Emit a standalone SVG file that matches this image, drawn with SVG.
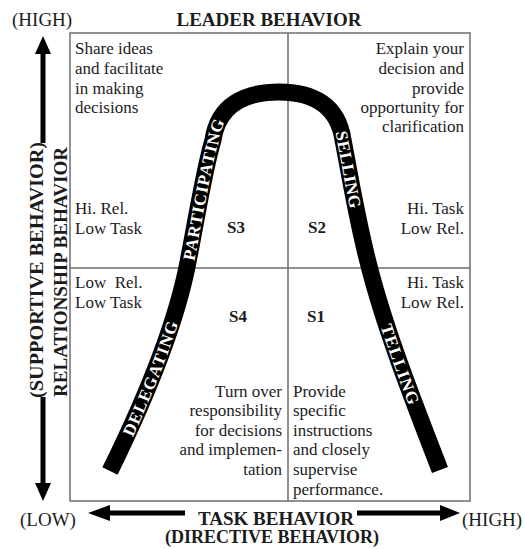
<svg xmlns="http://www.w3.org/2000/svg" width="525" height="549" viewBox="0 0 525 549">
<style>
.t{font-family:"Liberation Serif","Times New Roman",serif;font-size:17px;fill:#1c1c1c}
.b{font-family:"Liberation Serif","Times New Roman",serif;font-weight:bold;fill:#1c1c1c}
.r{text-anchor:end}
.w{font-family:"Liberation Serif","Times New Roman",serif;font-weight:bold;font-size:17px;fill:#fff}
.grid{fill:none;stroke:#6e6e6e;stroke-width:1.5}
.band{fill:none;stroke:#000;stroke-width:17;stroke-linecap:butt;stroke-linejoin:round}
.ax{stroke:#000;stroke-width:5;fill:none}
</style>
<defs>
<path id="pL1" d="M110,471 C140,410 175,330 188,262"/>
<path id="pL2" d="M188,262 C196,222 204,170 213,140 C218,105 245,92 279,92"/>
<path id="pR1" d="M333.35,114.2 C338.2,120.98 341.5,129.5 343,140 C349,170 356,215 368,262"/>
<path id="pR2" d="M368,262 C385,330 415,405 440,470"/>
</defs>
<rect width="525" height="549" fill="#fff"/>
<g id="grid">
<rect class="grid" x="70" y="33" width="400" height="468"/>
<line class="grid" x1="288" y1="33" x2="288" y2="501"/>
<line class="grid" x1="70" y1="268" x2="470" y2="268"/>
</g>
<g id="axes">
<line class="ax" x1="43" y1="52" x2="43" y2="143"/>
<polygon points="43,36 35,54 51,54" fill="#000"/>
<line class="ax" x1="43" y1="397" x2="43" y2="485"/>
<polygon points="43,501 35,483 51,483" fill="#000"/>
<line class="ax" x1="108" y1="513" x2="185" y2="513"/>
<polygon points="88,513 110,505 110,521" fill="#000"/>
<line class="ax" x1="357" y1="513" x2="442" y2="513"/>
<polygon points="460,513 440,505 440,521" fill="#000"/>
</g>
<g id="curve">
<path class="band" d="M110,471 C140,410 175,330 188,262 C196,222 204,170 213,140 C218,105 245,92 279,92 C313,92 338,105 343,140 C349,170 356,215 368,262 C385,330 415,405 440,470"/>
<text class="w" dy="6"><textPath href="#pL1" startOffset="40" textLength="122" lengthAdjust="spacing">DELEGATING</textPath></text>
<text class="w" dy="6"><textPath href="#pL2" startOffset="2" textLength="144" lengthAdjust="spacing">PARTICIPATING</textPath></text>
<text class="w" dy="6"><textPath href="#pR1" startOffset="19" textLength="78" lengthAdjust="spacing">SELLING</textPath></text>
<text class="w" dy="6"><textPath href="#pR2" startOffset="65" textLength="84" lengthAdjust="spacing">TELLING</textPath></text>
</g>
<g id="titles">
<text class="t" x="12" y="26" style="font-size:19px">(HIGH)</text>
<text class="b" x="269" y="26" text-anchor="middle" style="font-size:19px">LEADER BEHAVIOR</text>
<text class="t" x="20" y="526" style="font-size:19px">(LOW)</text>
<text class="t" x="462" y="526" style="font-size:19px">(HIGH)</text>
<text class="b" x="276" y="525" text-anchor="middle" style="font-size:19px">TASK BEHAVIOR</text>
<text class="b" x="272" y="543" text-anchor="middle" style="font-size:18px">(DIRECTIVE BEHAVIOR)</text>
<text class="b" transform="translate(43,270) rotate(-90)" text-anchor="middle" style="font-size:19px" textLength="256" lengthAdjust="spacingAndGlyphs">(SUPPORTIVE BEHAVIOR)</text>
<text class="b" transform="translate(67,272) rotate(-90)" text-anchor="middle" style="font-size:19px" textLength="250" lengthAdjust="spacingAndGlyphs">RELATIONSHIP BEHAVIOR</text>
</g>
<g id="q3">
<text class="t" x="75" y="54">Share ideas</text>
<text class="t" x="75" y="74">and facilitate</text>
<text class="t" x="75" y="94">in making</text>
<text class="t" x="75" y="113">decisions</text>
<text class="t" x="75" y="214">Hi. Rel.</text>
<text class="t" x="75" y="234">Low Task</text>
<text class="b" x="236" y="233" text-anchor="middle" style="font-size:17px">S3</text>
</g>
<g id="q2">
<text class="t r" x="464" y="54">Explain your</text>
<text class="t r" x="464" y="74">decision and</text>
<text class="t r" x="464" y="94">provide</text>
<text class="t r" x="464" y="113">opportunity for</text>
<text class="t r" x="464" y="132">clarification</text>
<text class="t r" x="464" y="214">Hi. Task</text>
<text class="t r" x="464" y="234">Low Rel.</text>
<text class="b" x="317" y="233" text-anchor="middle" style="font-size:17px">S2</text>
</g>
<g id="q4">
<text class="t" x="75" y="288" xml:space="preserve">Low  Rel.</text>
<text class="t" x="75" y="308">Low Task</text>
<text class="b" x="238" y="322" text-anchor="middle" style="font-size:17px">S4</text>
<text class="t r" x="282" y="397">Turn over</text>
<text class="t r" x="282" y="416">responsibility</text>
<text class="t r" x="282" y="436">for decisions</text>
<text class="t r" x="282" y="455">and implemen-</text>
<text class="t r" x="282" y="475">tation</text>
</g>
<g id="q1">
<text class="t r" x="464" y="288">Hi. Task</text>
<text class="t r" x="464" y="308">Low Rel.</text>
<text class="b" x="316" y="322" text-anchor="middle" style="font-size:17px">S1</text>
<text class="t" x="293" y="397">Provide</text>
<text class="t" x="293" y="416">specific</text>
<text class="t" x="293" y="436">instructions</text>
<text class="t" x="293" y="455">and closely</text>
<text class="t" x="293" y="475">supervise</text>
<text class="t" x="293" y="495">performance.</text>
</g>
</svg>
